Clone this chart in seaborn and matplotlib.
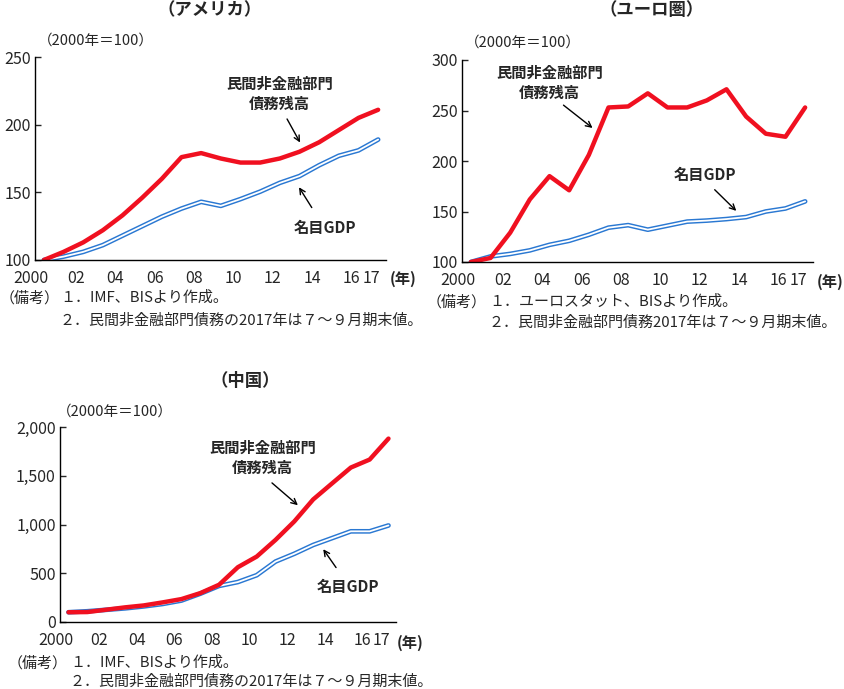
import numpy as np
import pandas as pd
import matplotlib
matplotlib.use("Agg")
import matplotlib.pyplot as plt
import matplotlib.transforms as mtransforms
import seaborn as sns

# data (index, 2000 = 100)
years = list(range(2000, 2018))
tick_years = [2000, 2002, 2004, 2006, 2008, 2010, 2012, 2014, 2016, 2017]
tick_labels = ["2000", "02", "04", "06", "08", "10", "12", "14", "16", "17"]

us_debt = [100, 106, 113, 122, 133, 146, 160, 176, 179, 175, 172, 172, 175, 180, 187, 196, 205, 211]
us_gdp = [100, 102.5, 106, 111, 118, 125, 132, 138, 143, 140, 145, 150.5, 157, 162, 170, 177, 181, 189]

ea_debt = [100, 104, 129, 162, 185, 171, 206, 253, 254, 267, 253, 253, 260, 271, 244, 227, 224, 253]
ea_gdp = [100, 105.5, 108, 111.5, 117, 121, 127, 134, 136.5, 132, 136, 140, 141, 142.5, 144.5, 150, 153, 160]

cn_debt = [100, 102, 126, 150, 170, 201, 235, 296, 382, 562, 671, 842, 1032, 1257, 1421, 1584, 1666, 1881]
cn_gdp = [100, 110, 125, 140, 160, 185, 220, 290, 370, 410, 480, 620, 700, 790, 860, 930, 930, 990]

debt_label = "民間非金融部門\n債務残高"
gdp_label = "名目GDP"

sns.set_style("white")
plt.rcParams['font.family'] = ['Noto Sans CJK JP', 'DejaVu Sans']

fig = plt.figure(figsize=(8.45, 6.89), dpi=100)

RED = "#f01020"
BLUE = "#2a78d2"
W, H = 845, 689


def fx(px):
    return px / W


def fy(py):
    return 1 - py / H


def draw_panel(rect, debt, gdp, ylim, yticks, ytl,
               debt_txt, debt_arrow, gdp_txt, gdp_arrow):
    ax = fig.add_axes(rect)
    df = pd.DataFrame({"year": years, "debt": debt, "gdp": gdp})
    sns.lineplot(data=df, x="year", y="gdp", ax=ax, color=BLUE, lw=3.4)
    sns.lineplot(data=df, x="year", y="gdp", ax=ax, color="white", lw=1.3)
    sns.lineplot(data=df, x="year", y="debt", ax=ax, color=RED, lw=3.2)
    ax.set_xlim(1999.55, 2017.4)
    ax.set_ylim(*ylim)
    ax.set_yticks(yticks)
    ax.set_yticklabels(ytl, fontsize=11.5)
    ax.set_xticks(tick_years)
    ax.set_xticklabels(tick_labels, fontsize=11.5)
    ax.set_xlabel("")
    ax.set_ylabel("")
    for s in ["top", "right"]:
        ax.spines[s].set_visible(False)
    for s in ["left", "bottom"]:
        ax.spines[s].set_color("black")
        ax.spines[s].set_linewidth(1.0)
    ax.tick_params(axis="y", direction="in", length=4, width=1, pad=3, left=True)
    ax.tick_params(axis="x", length=0, pad=7)
    # labels sit a bit left of the data points in the original
    for i, lab in enumerate(ax.get_xticklabels()):
        dx = -13 if i == 0 else -7
        off = mtransforms.ScaledTranslation(dx / 100, 0, fig.dpi_scale_trans)
        lab.set_transform(lab.get_transform() + off)
    ax.annotate("", xy=debt_arrow[1], xytext=debt_arrow[0],
                arrowprops=dict(arrowstyle="->", lw=1, color="black"))
    ax.text(debt_txt[0], debt_txt[1], debt_label, ha="center", va="center",
            fontsize=11, fontweight="bold", linespacing=1.3)
    ax.annotate("", xy=gdp_arrow[1], xytext=gdp_arrow[0],
                arrowprops=dict(arrowstyle="->", lw=1, color="black"))
    ax.text(gdp_txt[0], gdp_txt[1], gdp_label, ha="center", va="center",
            fontsize=11, fontweight="bold")
    return ax


def notes(x0, x1, y1, y2, line1, line2):
    fig.text(fx(x0), fy(y1), "（備考）", ha="left", va="center", fontsize=10.8)
    fig.text(fx(x1), fy(y1), line1, ha="left", va="center", fontsize=10.8)
    fig.text(fx(x1), fy(y2), line2, ha="left", va="center", fontsize=10.8)


# USA
draw_panel([fx(35), fy(260), fx(351), 203 / H], us_debt, us_gdp, (100, 250),
           [100, 150, 200, 250], ["100", "150", "200", "250"],
           (2012, 223), ((2012.3, 206), (2013.1, 185)),
           (2014.3, 124), ((2013.7, 137), (2012.9, 155.5)))
fig.text(fx(210), fy(10), "（アメリカ）", ha="center", va="center", fontsize=12.5, fontweight="bold")
fig.text(fx(38), fy(41), "（2000年＝100）", ha="left", va="center", fontsize=10.5)
fig.text(fx(390), fy(279), "(年)", ha="left", va="center", fontsize=11, fontweight="bold")
notes(0, 60, 298, 321, "１．IMF、BISより作成。", "２．民間非金融部門債務の2017年は７～９月期末値。")

# Euro area
draw_panel([fx(462), fy(262), fx(351), 202 / H], ea_debt, ea_gdp, (100, 300),
           [100, 150, 200, 250, 300], ["100", "150", "200", "250", "300"],
           (2004, 277.5), ((2004.6, 257), (2006.3, 231)),
           (2011.9, 186), ((2012.3, 173.5), (2013.6, 148.7)))
fig.text(fx(652), fy(10), "（ユーロ圏）", ha="center", va="center", fontsize=12.5, fontweight="bold")
fig.text(fx(465), fy(43), "（2000年＝100）", ha="left", va="center", fontsize=10.5)
fig.text(fx(817), fy(282), "(年)", ha="left", va="center", fontsize=11, fontweight="bold")
notes(427, 489, 302, 323, "１．ユーロスタット、BISより作成。", "２．民間非金融部門債務2017年は７～９月期末値。")

# China
draw_panel([fx(60), fy(622), fx(336), 195 / H], cn_debt, cn_gdp, (0, 2000),
           [0, 500, 1000, 1500, 2000], ["0", "500", "1,000", "1,500", "2,000"],
           (2010.3, 1680), ((2010.7, 1445), (2012.3, 1179)),
           (2014.85, 361), ((2014.3, 535), (2013.45, 770)))
fig.text(fx(245), fy(381), "（中国）", ha="center", va="center", fontsize=12.5, fontweight="bold")
fig.text(fx(57), fy(412), "（2000年＝100）", ha="left", va="center", fontsize=10.5)
fig.text(fx(397), fy(643), "(年)", ha="left", va="center", fontsize=11, fontweight="bold")
notes(8, 70, 663, 682, "１．IMF、BISより作成。", "２．民間非金融部門債務の2017年は７～９月期末値。")

fig.savefig("out.png", dpi=100)
